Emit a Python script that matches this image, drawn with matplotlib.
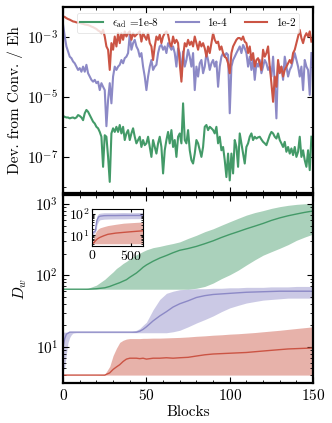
import numpy as np
import matplotlib
matplotlib.use("Agg")
import matplotlib.pyplot as plt
from matplotlib.ticker import FixedLocator, NullFormatter, MultipleLocator

plt.rcParams["font.family"] = "serif"
plt.rcParams["font.serif"] = ["cmr10"]
plt.rcParams["mathtext.fontset"] = "cm"
plt.rcParams["axes.formatter.use_mathtext"] = True
plt.rcParams["font.size"] = 11

c_green = "#439a68"
c_purple = "#8c89c6"
c_red = "#cb5444"

labels = [r"$\epsilon_{\rm ad}$ =1e-8", "1e-4", "1e-2"]

# top panel: log10 of deviation from converged energy, one value per block
dev_green = [
    -5.63, -5.66, -5.68, -5.68, -5.71, -5.69, -5.68, -5.71, -5.68, -5.60,
    -5.63, -5.68, -5.77, -5.54, -5.43, -5.49, -5.60, -5.71, -5.82, -5.88,
    -5.99, -6.04, -6.16, -6.32, -7.32, -6.27, -6.32, -6.99, -7.82, -6.21,
    -6.04, -6.16, -5.99, -6.16, -5.93, -6.21, -5.99, -6.43, -6.21, -6.10,
    -6.43, -6.21, -6.04, -6.32, -6.54, -6.43, -6.32, -6.66, -6.43, -6.60,
    -6.54, -6.32, -6.66, -6.99, -6.43, -6.66, -6.88, -6.54, -6.32, -6.66,
    -7.54, -6.77, -6.43, -6.16, -6.54, -6.10, -6.66, -6.43, -6.99, -6.32,
    -6.21, -6.54, -5.21, -6.43, -6.54, -6.10, -6.77, -7.10, -7.21, -6.88,
    -6.43, -6.54, -6.77, -6.99, -6.66, -5.99, -5.93, -6.10, -5.99, -6.04,
    -6.10, -6.21, -5.99, -6.54, -6.32, -6.77, -6.66, -7.10, -7.66, -6.88,
    -7.77, -6.88, -7.54, -6.43, -6.66, -7.32, -6.21, -6.54, -6.88, -7.21,
    -6.66, -6.54, -6.32, -6.21, -6.43, -6.32, -6.38, -6.34, -6.32, -6.41,
    -6.49, -6.54, -6.60, -6.43, -6.27, -6.16, -6.21, -6.32, -6.38, -6.21,
    -6.43, -6.54, -6.66, -6.49, -6.82, -6.66, -6.88, -6.71, -6.93, -6.66,
    -6.99, -6.82, -6.32, -6.99, -6.77, -7.10, -7.32, -6.77, -7.43, -6.32,
]
dev_purple = [
    -2.60, -2.99, -3.32, -3.49, -3.66, -3.71, -3.82, -3.88, -3.99, -4.10,
    -4.04, -4.16, -3.99, -4.16, -3.93, -4.21, -4.32, -4.43, -4.49, -4.43,
    -4.54, -4.49, -4.77, -4.54, -4.66, -4.77, -5.97, -5.10, -4.54, -5.21,
    -4.32, -3.99, -4.10, -3.99, -3.93, -3.77, -3.88, -3.71, -3.66, -3.54,
    -2.93, -3.43, -3.21, -3.10, -3.32, -3.43, -3.66, -3.54, -3.99, -4.32,
    -4.77, -4.32, -3.99, -3.77, -4.10, -3.99, -3.93, -3.54, -3.32, -3.27,
    -3.43, -3.32, -3.54, -3.21, -3.32, -3.43, -3.32, -3.54, -3.99, -3.38,
    -3.54, -4.32, -3.49, -3.99, -3.77, -3.43, -3.66, -3.99, -3.54, -4.77,
    -3.99, -4.32, -3.88, -3.77, -4.21, -3.99, -3.54, -3.77, -4.10, -3.88,
    -3.77, -3.99, -3.82, -4.66, -3.99, -3.66, -3.54, -3.66, -3.54, -3.60,
    -5.54, -3.99, -3.77, -3.66, -3.54, -3.43, -3.32, -3.54, -3.27, -3.38,
    -3.54, -3.99, -3.66, -4.10, -3.77, -4.43, -3.88, -3.99, -3.77, -4.21,
    -3.99, -3.77, -3.88, -4.10, -3.99, -4.32, -3.66, -4.54, -5.71, -3.88,
    -4.10, -3.99, -4.43, -3.66, -3.99, -4.32, -4.10, -3.99, -3.77, -3.54,
    -3.77, -3.99, -4.32, -3.99, -4.77, -3.77, -3.99, -4.10, -4.93, -3.54,
]
dev_red = [
    -2.32, -2.34, -2.38, -2.41, -2.43, -2.46, -2.49, -2.50, -2.52, -2.53,
    -2.54, -2.56, -2.57, -2.59, -2.60, -2.61, -2.63, -2.66, -2.68, -2.71,
    -2.74, -2.79, -2.82, -2.88, -2.77, -2.99, -3.32, -3.43, -4.10, -3.21,
    -3.43, -2.99, -3.32, -2.88, -3.21, -2.88, -3.10, -2.82, -2.99, -2.88,
    -2.82, -3.10, -2.88, -2.99, -2.93, -2.88, -2.82, -3.16, -2.88, -2.99,
    -3.10, -2.88, -3.21, -3.32, -3.77, -3.32, -2.99, -3.10, -2.93, -3.21,
    -2.99, -2.88, -2.82, -2.93, -3.21, -3.32, -2.99, -3.21, -3.10, -3.21,
    -3.88, -4.49, -3.66, -3.21, -3.32, -3.10, -3.27, -3.16, -3.32, -2.99,
    -3.21, -3.43, -3.16, -3.32, -3.21, -3.38, -3.66, -3.32, -3.54, -3.21,
    -2.88, -3.10, -3.21, -3.16, -3.43, -3.32, -3.54, -3.66, -3.71, -3.88,
    -4.21, -3.54, -3.32, -3.21, -3.10, -3.04, -3.04, -3.10, -2.99, -3.16,
    -3.21, -3.54, -3.32, -3.77, -3.54, -3.99, -3.77, -3.71, -3.88, -4.10,
    -3.43, -3.66, -3.54, -3.32, -3.99, -4.54, -5.16, -4.32, -4.66, -3.77,
    -4.21, -3.99, -4.32, -4.10, -3.99, -3.88, -3.77, -3.88, -3.54, -3.43,
    -3.21, -2.99, -2.77, -3.04, -3.21, -2.99, -2.88, -2.99, -2.82, -3.16,
]

# bottom panel: bond dimension D_w (median and spread) vs blocks
blocks_dw = [0, 1, 2, 3, 4, 5, 6, 8, 10, 15, 20, 25, 28, 30, 32, 34, 36, 38, 40, 44,
             46, 48, 50, 54, 58, 62, 66, 70, 75, 80, 85, 90, 95, 100, 105, 110, 115,
             120, 125, 130, 135, 140, 145, 150]
dw_green_mid = [64, 64, 64, 64, 64, 64, 64, 64, 64, 64, 65, 67, 70, 73, 76, 79, 83, 87,
                94, 108, 118, 130, 140, 158, 175, 190, 208, 225, 238, 255, 278, 305,
                340, 375, 410, 450, 490, 535, 590, 640, 685, 725, 765, 800]
dw_green_hi = [64, 64, 64, 64, 64, 64, 64, 64, 64, 66, 73, 88, 102, 112, 125, 135, 147,
               157, 170, 195, 205, 217, 228, 245, 255, 268, 280, 295, 330, 365, 410,
               450, 505, 565, 630, 700, 760, 810, 870, 920, 960, 990, 1010, 1020]
dw_green_lo = [64, 64, 64, 64, 64, 64, 64, 64, 64, 64, 64, 64, 64, 64, 64, 64, 64, 64,
               64, 64, 64, 64, 64, 64, 64, 64, 64, 64, 64, 66, 70, 78, 90, 102, 118,
               140, 165, 192, 215, 240, 270, 310, 345, 380]
dw_purple_mid = [10, 13, 15, 15.5, 16, 16, 16, 16, 16, 16, 16, 16, 16, 16, 16, 16, 16,
                 16, 16, 16, 16.5, 17.5, 19, 23, 27, 31, 36, 40, 44, 49, 52, 54, 55, 56,
                 57, 58, 58.5, 59, 59.5, 60, 60, 60, 60, 60]
dw_purple_hi = [16, 16, 16, 16, 16, 16, 16, 16, 16, 16, 16, 16, 16, 16, 16, 16, 16, 16,
                16, 17, 18, 20, 22, 33, 46, 56, 60, 63, 64, 65, 65, 66, 66, 67, 67, 68,
                68, 68, 69, 69, 69, 70, 70, 70]
dw_purple_lo = [4.5, 5.2, 8, 11.5, 13.5, 14.8, 15.5, 15.7, 15.7, 15.7, 15.7, 15.7, 15.7,
                15.7, 15.7, 15.7, 15.7, 15.7, 15.7, 15.7, 15.7, 15.7, 15.7, 15.7, 15.7,
                15.7, 16.2, 17, 19, 21.5, 24, 27, 31, 35, 38, 41, 43, 45, 46, 47, 48,
                48, 48, 48]
dw_red_mid = [4, 4, 4, 4, 4, 4, 4, 4, 4, 4, 4, 4, 4.3, 4.8, 5.2, 5.6, 6.2, 6.7, 6.9, 6.9,
              6.8, 6.9, 6.7, 6.9, 6.9, 7.0, 6.9, 7.0, 7.1, 7.4, 7.7, 7.9, 8.0, 8.1, 8.2,
              8.3, 8.5, 8.7, 8.9, 9.1, 9.3, 9.4, 9.5, 9.6]
dw_red_hi = [4, 4, 4, 4, 4, 4, 4, 4, 4, 4, 4, 4.1, 5.3, 7.5, 9.5, 11.5, 12.3, 12.8, 13,
             13, 13, 13.1, 13.1, 13.2, 13.2, 13.3, 13.4, 13.5, 13.7, 14, 14.2, 14.5,
             14.7, 15, 15.2, 15.5, 15.8, 16.2, 16.6, 17, 17.5, 18, 18.5, 19]
dw_red_lo = [4] * len(blocks_dw)

# inset: longer runs
blocks_in = [0, 20, 40, 50, 60, 80, 100, 150, 200, 300, 400, 500, 600, 650]
in_purple_mid = [12, 14, 16, 30, 50, 70, 76, 80, 81, 81, 82, 82, 82, 82]
in_purple_hi = [16, 16, 18, 45, 80, 100, 105, 110, 110, 110, 112, 110, 112, 110]
in_purple_lo = [8, 12, 14, 18, 30, 45, 52, 55, 56, 57, 57, 58, 58, 58]
in_red_mid = [4, 4.5, 5.5, 6, 6.5, 7.3, 8, 9.5, 11, 12.5, 13.5, 14.5, 15.5, 16]
in_red_hi = [4.5, 8, 13, 15, 17, 20, 22, 25, 28, 32, 36, 38, 40, 41]
in_red_lo = [4] * len(blocks_in)

fig = plt.figure(figsize=(3.32, 4.23), dpi=100)
ax1 = fig.add_axes([0.19, 0.5437, 0.753, 0.4397])
ax2 = fig.add_axes([0.19, 0.0953, 0.753, 0.4437], sharex=ax1)

blocks = np.arange(len(dev_green))
for dev, col, lab in zip([dev_green, dev_purple, dev_red],
                         [c_green, c_purple, c_red], labels):
    ax1.plot(blocks, 10.0 ** np.array(dev), color=col, lw=1.5, label=lab)
ax1.set_yscale("log")
ax1.set_ylim(10 ** -8.19, 10 ** -2.01)
ax1.yaxis.set_major_locator(FixedLocator([1e-7, 1e-5, 1e-3]))
ax1.yaxis.set_minor_locator(FixedLocator([1e-8, 1e-6, 1e-4]))
ax1.yaxis.set_minor_formatter(NullFormatter())
ax1.set_ylabel("Dev. from Conv. / Eh")
ax1.tick_params(labelbottom=False)
leg = ax1.legend(loc="upper center", ncol=3, fontsize=8, framealpha=0.8,
                 edgecolor="#dddddd", fancybox=True, borderpad=0.3,
                 columnspacing=1.6, handlelength=2.0, bbox_to_anchor=(0.5, 1.0))
leg.get_frame().set_linewidth(0.6)

bx = np.array(blocks_dw)
for mid, lo, hi, col in [(dw_green_mid, dw_green_lo, dw_green_hi, c_green),
                         (dw_purple_mid, dw_purple_lo, dw_purple_hi, c_purple),
                         (dw_red_mid, dw_red_lo, dw_red_hi, c_red)]:
    ax2.fill_between(bx, lo, hi, color=col, alpha=0.45, lw=0)
    ax2.plot(bx, mid, color=col, lw=1.0)
ax2.set_yscale("log")
ax2.set_ylim(3.13, 1340)
ax2.set_xlim(0, 150)
ax2.set_xticks([0, 50, 100, 150])
ax2.set_xlabel("Blocks", labelpad=2)
ax2.set_ylabel(r"$D_w$")

for ax in (ax1, ax2):
    ax.xaxis.set_minor_locator(MultipleLocator(10))
    ax.tick_params(which="both", direction="in", top=True, right=True)
    ax.tick_params(which="major", length=4, width=0.8)
    ax.tick_params(which="minor", length=2, width=0.6)
    for s in ax.spines.values():
        s.set_linewidth(1.6)
ax1.yaxis.set_label_coords(-0.16, 0.5)
ax2.yaxis.set_label_coords(-0.135, 0.5)

axi = fig.add_axes([0.278, 0.418, 0.153, 0.0875])
bi = np.array(blocks_in)
for mid, lo, hi, col in [(in_purple_mid, in_purple_lo, in_purple_hi, c_purple),
                         (in_red_mid, in_red_lo, in_red_hi, c_red)]:
    axi.fill_between(bi, lo, hi, color=col, alpha=0.45, lw=0)
    axi.plot(bi, mid, color=col, lw=1.0)
axi.set_yscale("log")
axi.set_xlim(0, 650)
axi.set_ylim(3.1, 160)
axi.set_xticks([0, 500])
axi.tick_params(which="both", direction="in", top=True, right=True, labelsize=10, pad=2)
axi.tick_params(which="major", length=2.5)
axi.tick_params(which="minor", length=1.5)
for s in axi.spines.values():
    s.set_linewidth(0.8)

fig.savefig("out.png", dpi=100)
